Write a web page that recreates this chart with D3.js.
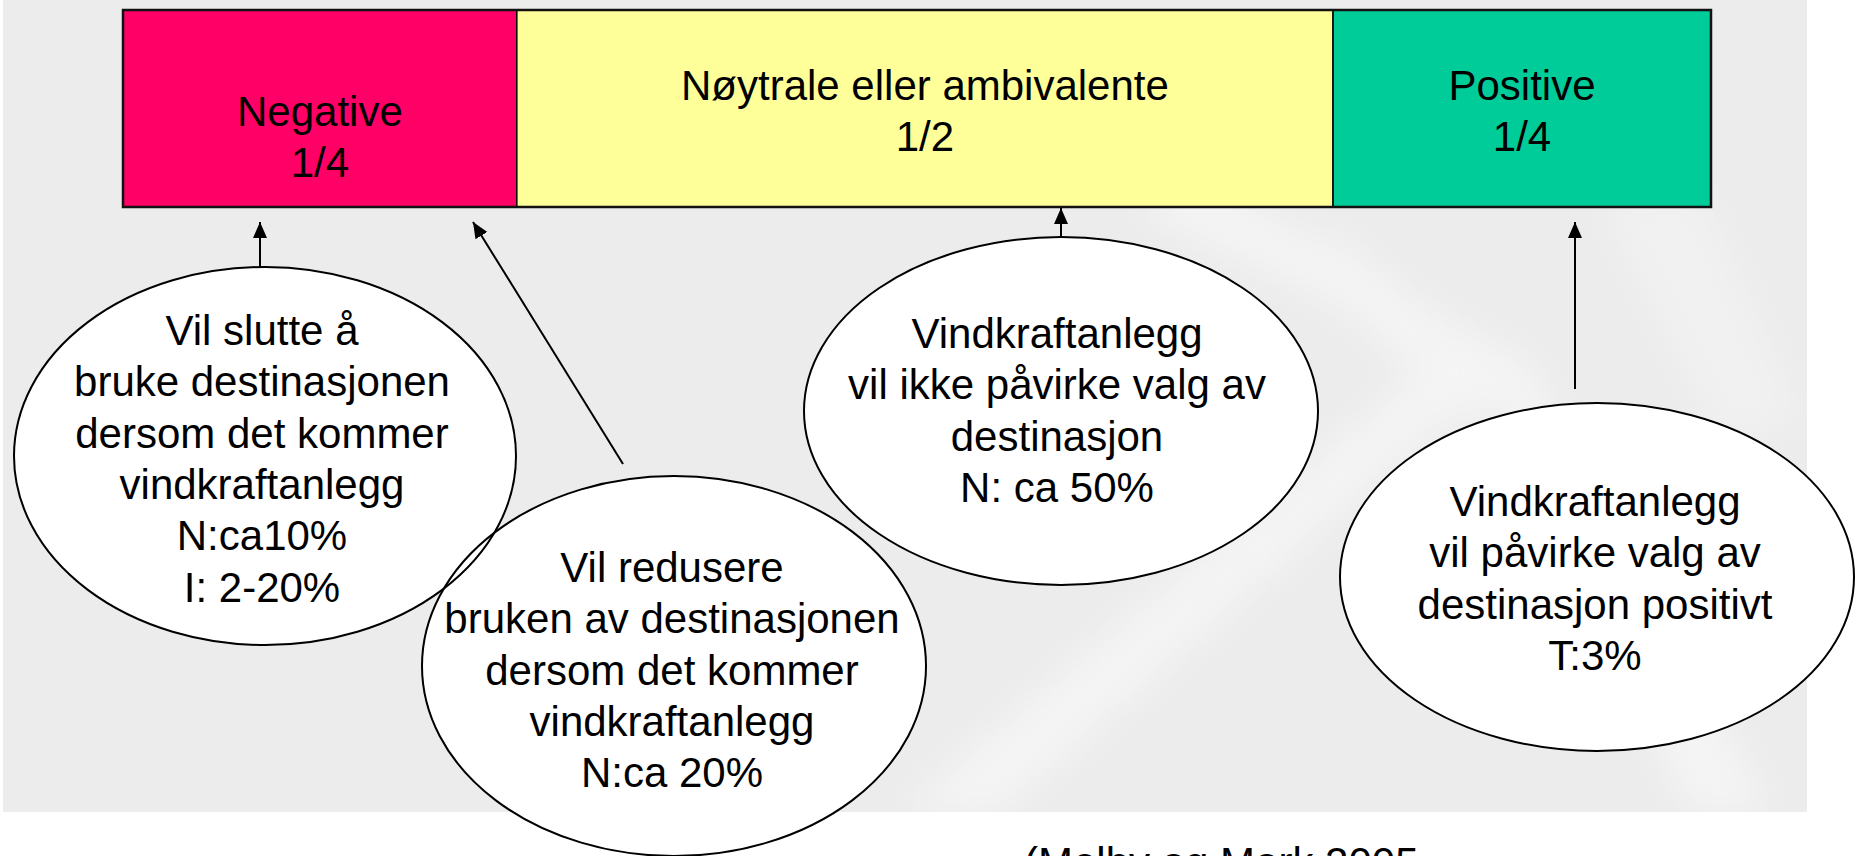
<!DOCTYPE html>
<html>
<head>
<meta charset="utf-8">
<script src="https://cdn.jsdelivr.net/npm/d3@7"></script>
<style>
	body { margin: 0; background: #fff; }
	svg text { font-family: "Liberation Sans", Arial, Helvetica, sans-serif; font-size: 42px; fill: #000; }
</style>
</head>
<body>
<svg width="1858" height="856" id="chart"></svg>
<script>
	// bar segments
	var segmentLabels = ["Negative", "Nøytrale eller ambivalente", "Positive"];
	var segmentShares = ["1/4", "1/2", "1/4"];
	var segmentSizes = [24.8, 51.4, 23.8];   // share of bar width as drawn (%)

	// speech bubbles, one per group of answers
	var bubbleTexts = [
		["Vil slutte å", "bruke destinasjonen", "dersom det kommer", "vindkraftanlegg", "N:ca10%", "I: 2-20%"],
		["Vil redusere", "bruken av destinasjonen", "dersom det kommer", "vindkraftanlegg", "N:ca 20%"],
		["Vindkraftanlegg", "vil ikke påvirke valg av", "destinasjon", "N: ca 50%"],
		["Vindkraftanlegg", "vil påvirke valg av", "destinasjon positivt", "T:3%"]
	];
	var source = "(Melby og Mork 2005";

	var svg = d3.select("svg#chart"),
		bar = { left: 123, right: 1711, top: 10, bottom: 207 },
		lineH = 51.3;

	var x = d3.scaleLinear()
		.domain([0, d3.sum(segmentSizes)])
		.range([bar.left, bar.right]);

	var color = d3.scaleOrdinal()
		.domain(segmentLabels)
		.range(["#ff0066", "#ffff99", "#00cc99"]);

	var segs = segmentSizes.map(function(v, i) {
		var start = d3.sum(segmentSizes.slice(0, i));
		return { label: segmentLabels[i], share: segmentShares[i], x0: start, x1: start + v };
	});

	// background with faint light streaks
	var defs = svg.append("defs");
	defs.append("filter").attr("id", "blur")
		.attr("x", "-50%").attr("y", "-50%").attr("width", "200%").attr("height", "200%")
		.append("feGaussianBlur").attr("stdDeviation", 18);
	defs.append("clipPath").attr("id", "bgclip")
		.append("rect").attr("x", 3).attr("y", 0).attr("width", 1804).attr("height", 812);

	defs.append("marker")
		.attr("id", "head")
		.attr("markerUnits", "userSpaceOnUse")
		.attr("markerWidth", 18).attr("markerHeight", 16)
		.attr("refX", 16).attr("refY", 7)
		.attr("orient", "auto")
		.append("path")
		.attr("d", "M0,0L16,7L0,14Z")
		.attr("fill", "#000");

	var bg = svg.append("g").attr("clip-path", "url(#bgclip)");
	bg.append("rect").attr("x", 3).attr("y", 0).attr("width", 1804).attr("height", 812).attr("fill", "#ececec");
	var streaks = bg.append("g").attr("filter", "url(#blur)").attr("fill", "#fff").attr("opacity", 0.45);
	streaks.append("path").attr("d", "M1470,330 L1510,360 L1000,812 L900,812 Z");
	streaks.append("path").attr("d", "M1480,340 L1500,380 L1140,210 L1190,170 Z");
	streaks.append("path").attr("d", "M1480,350 L1520,350 L1770,812 L1690,812 Z");
	streaks.append("path").attr("d", "M1290,250 L1340,235 L1520,400 L1460,425 Z").attr("opacity", 0.8);
	streaks.append("path").attr("d", "M1600,200 L1700,190 L1800,420 L1720,440 Z").attr("opacity", 0.6);

	// bar
	var gBar = svg.append("g");
	gBar.selectAll("rect.seg")
		.data(segs)
		.enter().append("rect")
		.attr("class", "seg")
		.attr("x", function(d) { return x(d.x0); })
		.attr("y", bar.top)
		.attr("width", function(d) { return x(d.x1) - x(d.x0); })
		.attr("height", bar.bottom - bar.top)
		.attr("fill", function(d) { return color(d.label); })
		.attr("stroke", "#000")
		.attr("stroke-width", 1.5);
	gBar.append("rect")
		.attr("x", bar.left).attr("y", bar.top)
		.attr("width", bar.right - bar.left).attr("height", bar.bottom - bar.top)
		.attr("fill", "none").attr("stroke", "#111").attr("stroke-width", 2.5);

	var labelTop = [126, 100, 100];
	gBar.selectAll("text.lab")
		.data(segs)
		.enter().append("text")
		.attr("class", "lab")
		.attr("text-anchor", "middle")
		.attr("y", function(d, i) { return labelTop[i]; })
		.each(function(d) {
			var t = d3.select(this), cx = (x(d.x0) + x(d.x1)) / 2;
			t.append("tspan").attr("x", cx).text(d.label);
			t.append("tspan").attr("x", cx).attr("dy", lineH).text(d.share);
		});

	// arrows from the bubbles to the bar
	var arrows = [
		{ x1: 260, y1: 267, x2: 260, y2: 222 },
		{ x1: 623, y1: 464, x2: 473, y2: 222 },
		{ x1: 1061, y1: 237, x2: 1061, y2: 208 },
		{ x1: 1575, y1: 389, x2: 1575, y2: 222 }
	];
	svg.append("g").selectAll("line")
		.data(arrows)
		.enter().append("line")
		.attr("x1", function(d) { return d.x1; })
		.attr("y1", function(d) { return d.y1; })
		.attr("x2", function(d) { return d.x2; })
		.attr("y2", function(d) { return d.y2; })
		.attr("stroke", "#000")
		.attr("stroke-width", 2)
		.attr("marker-end", "url(#head)");

	// bubbles
	var bubbles = [
		{ cx: 265, cy: 456, rx: 251, ry: 189, tx: 262, ty: 345 },
		{ cx: 674, cy: 666, rx: 252, ry: 190, tx: 672, ty: 582 },
		{ cx: 1061, cy: 411, rx: 257, ry: 174, tx: 1057, ty: 348 },
		{ cx: 1597, cy: 577, rx: 257, ry: 174, tx: 1595, ty: 516 }
	];
	bubbles.forEach(function(b, i) { b.lines = bubbleTexts[i]; });

	var gB = svg.append("g");
	gB.selectAll("ellipse.fill")
		.data(bubbles)
		.enter().append("ellipse")
		.attr("class", "fill")
		.attr("cx", function(d) { return d.cx; })
		.attr("cy", function(d) { return d.cy; })
		.attr("rx", function(d) { return d.rx; })
		.attr("ry", function(d) { return d.ry; })
		.attr("fill", "#fff");
	gB.selectAll("ellipse.edge")
		.data(bubbles)
		.enter().append("ellipse")
		.attr("class", "edge")
		.attr("cx", function(d) { return d.cx; })
		.attr("cy", function(d) { return d.cy; })
		.attr("rx", function(d) { return d.rx; })
		.attr("ry", function(d) { return d.ry; })
		.attr("fill", "none")
		.attr("stroke", "#000")
		.attr("stroke-width", 2);

	gB.selectAll("text")
		.data(bubbles)
		.enter().append("text")
		.attr("text-anchor", "middle")
		.attr("y", function(d) { return d.ty; })
		.each(function(d) {
			var t = d3.select(this);
			d.lines.forEach(function(l, j) {
				t.append("tspan").attr("x", d.tx).attr("dy", j ? lineH : 0).text(l);
			});
		});

	// source line, partly below the page edge as in the original slide
	svg.append("text")
		.attr("x", 1024)
		.attr("y", 877)
		.text(source);
</script>
</body>
</html>
